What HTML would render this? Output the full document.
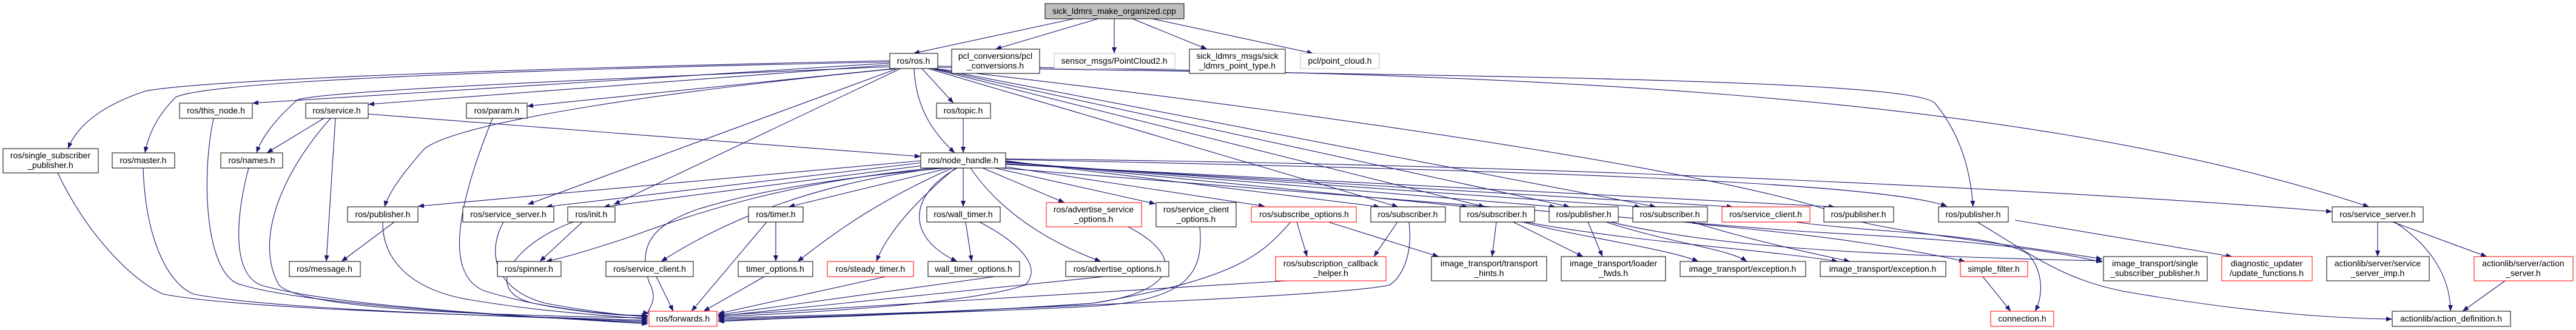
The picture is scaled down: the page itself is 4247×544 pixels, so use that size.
<!DOCTYPE html>
<html><head><meta charset="utf-8"><style>
html,body{margin:0;padding:0;background:#fff;}
svg{display:block;}
text{font-family:"Liberation Sans",sans-serif;font-size:14px;fill:#000;text-anchor:middle;}
.e{fill:none;stroke:#191970;stroke-width:1.1;}
.n{fill:#fff;stroke:#000;stroke-width:1;}
.r{fill:#fff;stroke:#ff0000;stroke-width:1;}
.g{fill:#fff;stroke:#bfbfbf;stroke-width:1;}
</style></head><body>
<svg width="4247" height="544" viewBox="0 0 4247 544" xmlns="http://www.w3.org/2000/svg">
<defs><marker id="a" viewBox="0 0 10 8" refX="10" refY="4" markerWidth="10" markerHeight="8" markerUnits="userSpaceOnUse" orient="auto"><path d="M0,0 L10,4 L0,8 Z" fill="#191970"/></marker></defs>
<g class="e" marker-end="url(#a)">
<path d="M1770,31 L1506,88"/><path d="M1810,31 L1641,81"/><path d="M1837,31 L1837,88"/><path d="M1867,31 L1990,81"/><path d="M1900,31 L2165,88"/>
<path d="M1467,100 C900,112 350,130 240,150 C180,170 130,200 112,245"/>
<path d="M1467,102 C900,114 350,132 290,160 C260,190 245,220 239,252"/>
<path d="M1467,104 L416,170"/>
<path d="M1467,107 L607,172"/>
<path d="M1467,110 C1000,130 520,150 490,165 C450,200 430,230 423,252"/>
<path d="M1475,113 L869,175"/>
<path d="M1520,113 L1572,170"/>
<path d="M1507,113 C1510,180 1540,220 1574,252"/>
<path d="M1480,113 C1100,150 760,200 700,245 C660,290 640,320 634,341"/>
<path d="M1480,113 L870,337"/>
<path d="M1485,113 L1012,337"/>
<path d="M1530,113 L2305,341"/>
<path d="M1535,113 L2448,341"/>
<path d="M1538,113 L2588,341"/>
<path d="M1542,113 L2730,341"/>
<path d="M1546,111 C2400,125 3150,130 3190,170 C3240,230 3250,300 3253,341"/>
<path d="M1546,109 C2400,120 3300,140 3906,341"/>
<path d="M1540,113 C2300,200 2920,300 3050,360 C3100,380 3300,400 3466,427"/>
<path d="M1588,195 L1588,252"/>
<path d="M534,195 L440,252"/>
<path d="M553,195 L538,431"/>
<path d="M607,188 L1518,258"/>
<path d="M545,195 C460,290 420,400 460,470 C500,510 800,520 1068,524"/>
<path d="M1518,265 L689,340"/>
<path d="M1522,268 L900,341"/>
<path d="M1528,272 L995,341"/>
<path d="M1540,277 C1300,300 1150,350 1040,390 C980,410 930,425 900,431"/>
<path d="M1550,277 C1350,300 1200,360 1090,431"/>
<path d="M1560,277 C1300,300 1200,330 1150,345 C1080,370 1050,400 1070,465 C1090,500 1060,515 1070,517"/>
<path d="M1565,277 L1300,341"/>
<path d="M1575,277 C1500,340 1460,390 1445,431"/>
<path d="M1570,277 C1450,330 1380,380 1315,431"/>
<path d="M1588,277 L1588,341"/>
<path d="M1578,277 C1500,320 1490,390 1578,431"/>
<path d="M1600,277 C1650,350 1730,400 1815,431"/>
<path d="M1620,277 L1755,334"/>
<path d="M1640,277 L1905,336"/>
<path d="M1658,275 L2085,340"/>
<path d="M1658,265 L2275,341"/>
<path d="M1658,266 L2420,341"/>
<path d="M1658,267 L2565,341"/>
<path d="M1658,268 L2705,341"/>
<path d="M1658,270 L2857,341"/>
<path d="M1658,271 L3025,341"/>
<path d="M1658,263 C2500,280 3100,300 3210,340"/>
<path d="M1658,262 C2600,270 3500,320 3845,349"/>
<path d="M1650,277 C2200,320 2700,360 2950,380 C3100,390 3300,395 3466,432"/>
<path d="M650,366 L563,431"/>
<path d="M631,366 C630,430 680,480 780,495 C900,515 1000,520 1068,526"/>
<path d="M830,366 C800,420 820,480 900,500 C980,515 1030,520 1068,522"/>
<path d="M960,366 L890,431"/>
<path d="M945,366 C850,400 790,480 880,500 C960,515 1020,520 1068,520"/>
<path d="M1264,366 L1140,513"/>
<path d="M1279,366 L1279,431"/>
<path d="M1592,366 L1602,431"/>
<path d="M1615,366 C1680,400 1720,440 1690,470 C1600,500 1350,515 1184,522"/>
<path d="M1860,374 C1950,420 1950,480 1800,500 C1600,515 1350,520 1184,524"/>
<path d="M1978,374 C1985,450 1960,495 1800,505 C1600,515 1350,522 1184,526"/>
<path d="M2138,366 L2155,423"/>
<path d="M2190,366 L2372,423"/>
<path d="M2128,366 C2080,420 2040,460 1800,500 C1500,520 1300,525 1184,528"/>
<path d="M2304,366 L2265,423"/>
<path d="M2323,366 C2330,420 2310,460 2290,470 C2200,490 1600,510 1184,530"/>
<path d="M2467,366 L2460,423"/>
<path d="M2495,366 L2610,423"/>
<path d="M2510,366 C2600,390 2750,410 2800,431"/>
<path d="M2515,366 C2700,400 2900,410 3030,431"/>
<path d="M2618,366 L2642,423"/>
<path d="M2648,366 C2750,400 2850,410 2880,431"/>
<path d="M2655,366 C2800,400 3000,420 3466,430"/>
<path d="M2790,366 C2900,400 3000,420 3050,431"/>
<path d="M2790,368 C2900,380 3050,390 3240,431"/>
<path d="M2960,366 C3100,385 3300,385 3345,420 C3370,450 3368,490 3355,513"/>
<path d="M3322,363 L3680,423"/>
<path d="M3269,456 L3315,513"/>
<path d="M3920,366 L3920,423"/>
<path d="M3945,366 L4100,423"/>
<path d="M3948,366 C4000,400 4040,450 4040,513"/>
<path d="M4130,463 L4060,513"/>
<path d="M3260,366 C3350,420 3400,460 3500,480 C3700,515 3850,525 3944,526"/>
<path d="M95,285 C150,400 230,470 270,485 C400,510 800,520 1068,528"/>
<path d="M236,277 C240,400 280,470 320,485 C450,510 800,520 1068,530"/>
<path d="M352,195 C330,300 340,460 400,470 C500,500 800,520 1068,532"/>
<path d="M410,277 C390,350 380,450 430,470 C550,505 850,520 1068,534"/>
<path d="M812,195 C770,300 720,450 800,480 C900,510 1000,520 1068,521"/>
<path d="M1640,456 L1184,519"/>
<path d="M1820,456 L1184,521"/>
<path d="M1460,456 L1184,517"/>
<path d="M1260,456 L1160,513"/>
<path d="M1082,456 L1110,513"/>
<path d="M2120,463 L1184,520"/>
</g>
<rect class="n" x="1723" y="6" width="229" height="25" style="fill:#bfbfbf"/><text x="1837" y="23">sick_ldmrs_make_organized.cpp</text>
<rect class="n" x="1467" y="88" width="79" height="25"/><text x="1506" y="105">ros/ros.h</text>
<rect class="n" x="1569" y="81" width="145" height="40"/><text x="1641" y="97">pcl_conversions/pcl</text><text x="1641" y="113">_conversions.h</text>
<rect class="g" x="1738" y="88" width="199" height="25"/><text x="1837" y="105">sensor_msgs/PointCloud2.h</text>
<rect class="n" x="1961" y="81" width="158" height="40"/><text x="2040" y="97">sick_ldmrs_msgs/sick</text><text x="2040" y="113">_ldmrs_point_type.h</text>
<rect class="g" x="2144" y="88" width="130" height="25"/><text x="2209" y="105">pcl/point_cloud.h</text>
<rect class="n" x="296" y="170" width="120" height="25"/><text x="356" y="187">ros/this_node.h</text>
<rect class="n" x="504" y="170" width="103" height="25"/><text x="555" y="187">ros/service.h</text>
<rect class="n" x="769" y="170" width="100" height="25"/><text x="819" y="187">ros/param.h</text>
<rect class="n" x="1544" y="170" width="89" height="25"/><text x="1588" y="187">ros/topic.h</text>
<rect class="n" x="5" y="245" width="157" height="40"/><text x="83" y="261">ros/single_subscriber</text><text x="83" y="277">_publisher.h</text>
<rect class="n" x="185" y="252" width="103" height="25"/><text x="236" y="269">ros/master.h</text>
<rect class="n" x="364" y="252" width="102" height="25"/><text x="415" y="269">ros/names.h</text>
<rect class="n" x="1518" y="252" width="140" height="25"/><text x="1588" y="269">ros/node_handle.h</text>
<rect class="n" x="573" y="341" width="116" height="25"/><text x="631" y="358">ros/publisher.h</text>
<rect class="n" x="763" y="341" width="150" height="25"/><text x="838" y="358">ros/service_server.h</text>
<rect class="n" x="936" y="341" width="78" height="25"/><text x="975" y="358">ros/init.h</text>
<rect class="n" x="1234" y="341" width="90" height="25"/><text x="1279" y="358">ros/timer.h</text>
<rect class="n" x="1528" y="341" width="121" height="25"/><text x="1588" y="358">ros/wall_timer.h</text>
<rect class="r" x="1725" y="334" width="157" height="40"/><text x="1803" y="350">ros/advertise_service</text><text x="1803" y="366">_options.h</text>
<rect class="n" x="1906" y="334" width="132" height="40"/><text x="1972" y="350">ros/service_client</text><text x="1972" y="366">_options.h</text>
<rect class="r" x="2063" y="341" width="173" height="25"/><text x="2150" y="358">ros/subscribe_options.h</text>
<rect class="n" x="2260" y="341" width="123" height="25"/><text x="2321" y="358">ros/subscriber.h</text>
<rect class="n" x="2407" y="341" width="123" height="25"/><text x="2468" y="358">ros/subscriber.h</text>
<rect class="n" x="2554" y="341" width="114" height="25"/><text x="2611" y="358">ros/publisher.h</text>
<rect class="n" x="2692" y="341" width="123" height="25"/><text x="2753" y="358">ros/subscriber.h</text>
<rect class="r" x="2839" y="341" width="145" height="25"/><text x="2911" y="358">ros/service_client.h</text>
<rect class="n" x="3007" y="341" width="115" height="25"/><text x="3064" y="358">ros/publisher.h</text>
<rect class="n" x="3196" y="341" width="115" height="25"/><text x="3253" y="358">ros/publisher.h</text>
<rect class="n" x="3845" y="341" width="150" height="25"/><text x="3920" y="358">ros/service_server.h</text>
<rect class="n" x="477" y="431" width="117" height="25"/><text x="535" y="448">ros/message.h</text>
<rect class="n" x="820" y="431" width="105" height="25"/><text x="872" y="448">ros/spinner.h</text>
<rect class="n" x="999" y="431" width="144" height="25"/><text x="1071" y="448">ros/service_client.h</text>
<rect class="n" x="1217" y="431" width="123" height="25"/><text x="1278" y="448">timer_options.h</text>
<rect class="r" x="1364" y="431" width="142" height="25"/><text x="1435" y="448">ros/steady_timer.h</text>
<rect class="n" x="1530" y="431" width="151" height="25"/><text x="1605" y="448">wall_timer_options.h</text>
<rect class="n" x="1757" y="431" width="170" height="25"/><text x="1842" y="448">ros/advertise_options.h</text>
<rect class="r" x="2103" y="423" width="182" height="40"/><text x="2194" y="439">ros/subscription_callback</text><text x="2194" y="455">_helper.h</text>
<rect class="n" x="2360" y="423" width="190" height="40"/><text x="2455" y="439">image_transport/transport</text><text x="2455" y="455">_hints.h</text>
<rect class="n" x="2574" y="423" width="172" height="40"/><text x="2660" y="439">image_transport/loader</text><text x="2660" y="455">_fwds.h</text>
<rect class="n" x="2770" y="431" width="207" height="25"/><text x="2873" y="448">image_transport/exception.h</text>
<rect class="n" x="3001" y="431" width="207" height="25"/><text x="3104" y="448">image_transport/exception.h</text>
<rect class="r" x="3232" y="431" width="111" height="25"/><text x="3287" y="448">simple_filter.h</text>
<rect class="n" x="3468" y="423" width="171" height="40"/><text x="3553" y="439">image_transport/single</text><text x="3553" y="455">_subscriber_publisher.h</text>
<rect class="r" x="3663" y="423" width="149" height="40"/><text x="3737" y="439">diagnostic_updater</text><text x="3737" y="455">/update_functions.h</text>
<rect class="n" x="3836" y="423" width="169" height="40"/><text x="3920" y="439">actionlib/server/service</text><text x="3920" y="455">_server_imp.h</text>
<rect class="r" x="4079" y="423" width="163" height="40"/><text x="4160" y="439">actionlib/server/action</text><text x="4160" y="455">_server.h</text>
<rect class="r" x="1070" y="513" width="112" height="25"/><text x="1126" y="530">ros/forwards.h</text>
<rect class="r" x="3282" y="513" width="104" height="25"/><text x="3334" y="530">connection.h</text>
<rect class="n" x="3944" y="513" width="195" height="25"/><text x="4041" y="530">actionlib/action_definition.h</text>
</svg>
</body></html>
